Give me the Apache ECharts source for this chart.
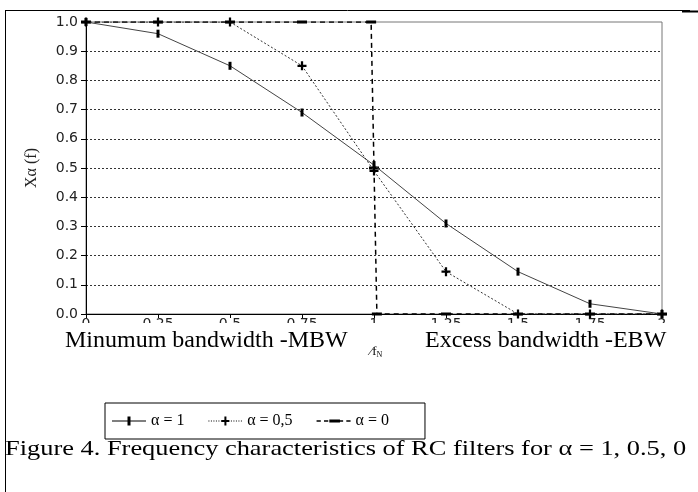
<!DOCTYPE html>
<html>
<head>
<meta charset="utf-8">
<script src="https://cdn.jsdelivr.net/npm/echarts@6/dist/echarts.min.js"></script>
<style>
  html, body { margin: 0; padding: 0; background: #fff; }
  #main { width: 698px; height: 492px; }
</style>
</head>
<body>
<div id="main"></div>
<script>
// data
var xTicks = ['0', '0.25', '0.5', '0.75', '1', '1.25', '1.5', '1.75', '2']
var fAlpha1 = [0, 0.25, 0.5, 0.75, 1, 1.25, 1.5, 1.75, 2]
var yAlpha1 = [1, 0.96, 0.85, 0.69, 0.51, 0.31, 0.145, 0.035, 0]
var fAlpha05 = [0, 0.25, 0.5, 0.75, 1, 1.25, 1.5, 1.75, 2]
var yAlpha05 = [1, 1, 1, 0.85, 0.49, 0.145, 0, 0, 0]
var fAlpha0 = [0, 0.25, 0.5, 0.75, 0.99, 1, 1.01, 1.25, 1.5, 1.75, 2]
var yAlpha0 = [1, 1, 1, 1, 1, 0.5, 0, 0, 0, 0, 0]
var seriesNames = ['α = 1', 'α = 0,5', 'α = 0']

function pairs(xs, ys) {
  var out = []
  for (var i = 0; i < xs.length; i++) out.push([xs[i], ys[i]])
  return out
}

// marker shapes
var plusPath = 'path://M0,3H3V0H5V3H8V5H5V8H3V5H0Z'

// legend icons: line sample + marker, drawn in a 34x9 box
function segs(on, off, y, h) {
  var p = ''
  for (var x = 0; x < 34; x += on + off) {
    var w = Math.min(on, 34 - x)
    p += 'M' + x + ',' + y + 'h' + w + 'v' + h + 'h' + (-w) + 'Z'
  }
  return p
}
var iconAlpha1 = 'path://' + segs(34, 0, 4, 1) + 'M15.5,0H18.5V9H15.5Z'
var iconAlpha05 = 'path://' + segs(1, 1.5, 4, 1) + 'M13,3.5H16V0H18V3.5H21V5.5H18V9H16V5.5H13Z'
var iconAlpha0 = 'path://' + segs(4, 3, 0.8, 1.4) + 'M12,0H22V3H12Z'

var serif = 'Liberation Serif'
var sans = 'DejaVu Sans'

var myChart = echarts.init(document.getElementById('main'))
var option = {
  animation: false,
  backgroundColor: '#fff',
  grid: {
    left: 86, right: 36, top: 22, bottom: 178,
    show: true, borderColor: '#777', borderWidth: 1
  },
  legend: {
    left: 105, top: 403,
    orient: 'horizontal',
    itemWidth: 34, itemHeight: 9, itemGap: 24,
    symbolKeepAspect: true,
    padding: [10, 36, 10, 7],
    borderColor: '#000', borderWidth: 1,
    textStyle: { fontFamily: serif, fontSize: 16, color: '#000' },
    data: [
      { name: seriesNames[0], icon: iconAlpha1 },
      { name: seriesNames[1], icon: iconAlpha05 },
      { name: seriesNames[2], icon: iconAlpha0 }
    ]
  },
  xAxis: {
    type: 'value', min: 0, max: 2, interval: 0.25,
    axisLine: { lineStyle: { color: '#000', width: 1 } },
    axisTick: { show: true, length: 4, lineStyle: { color: '#000' } },
    axisLabel: {
      margin: 3, fontFamily: sans, fontSize: 14, color: '#222',
      formatter: function (v) {
        var i = Math.round(v / 0.25)
        return xTicks[i] || ''
      }
    },
    splitLine: { show: false }
  },
  yAxis: {
    type: 'value', min: 0, max: 1, interval: 0.1,
    name: 'Xα (f)', nameLocation: 'middle', nameGap: 46, nameRotate: 90,
    nameTextStyle: { fontFamily: serif, fontSize: 16, color: '#222' },
    axisLine: { show: true, lineStyle: { color: '#000', width: 1 } },
    axisTick: { show: true, length: 5, lineStyle: { color: '#000' } },
    axisLabel: {
      margin: 8, fontFamily: sans, fontSize: 14, color: '#222',
      formatter: function (v) { return v.toFixed(1) }
    },
    splitLine: {
      show: true, showMinLine: false, showMaxLine: false,
      lineStyle: { color: '#333', type: [2, 2], width: 1 }
    }
  },
  series: [
    {
      name: seriesNames[2], type: 'line', z: 2,
      data: pairs(fAlpha0, yAlpha0),
      symbol: 'rect', symbolSize: [10, 3],
      lineStyle: { color: '#000', width: 1.5, type: [5, 4] },
      itemStyle: { color: '#000' }
    },
    {
      name: seriesNames[0], type: 'line', z: 3,
      data: pairs(fAlpha1, yAlpha1),
      symbol: 'rect', symbolSize: [3, 8],
      lineStyle: { color: '#444', width: 1, type: 'solid' },
      itemStyle: { color: '#000' }
    },
    {
      name: seriesNames[1], type: 'line', z: 4,
      data: pairs(fAlpha05, yAlpha05),
      symbol: plusPath, symbolSize: 9,
      lineStyle: { color: '#333', width: 1, type: [2, 2] },
      itemStyle: { color: '#000' }
    }
  ],
  graphic: [
    // outer frame of the figure
    { type: 'line', shape: { x1: 5.5, y1: 10, x2: 5.5, y2: 492 }, style: { stroke: '#000', lineWidth: 1 } },
    { type: 'line', shape: { x1: 5, y1: 10.5, x2: 690, y2: 10.5 }, style: { stroke: '#000', lineWidth: 1 } },
    { type: 'line', shape: { x1: 682, y1: 11.5, x2: 698, y2: 11.5 }, style: { stroke: '#000', lineWidth: 2 } },
    // white band hiding the lower half of the x tick labels
    { type: 'rect', z: 100, shape: { x: 60, y: 323, width: 630, height: 10 }, style: { fill: '#fff' } },
    {
      type: 'text', z: 101, left: 65, top: 329,
      style: { text: 'Minumum bandwidth -MBW', font: '24px "Liberation Serif"', fill: '#000' }
    },
    {
      type: 'text', z: 101, left: 425, top: 329,
      style: { text: 'Excess bandwidth -EBW', font: '24px "Liberation Serif"', fill: '#000' }
    },
    {
      type: 'text', z: 101, left: 370, top: 345,
      style: {
        text: '{a|⁄f}{b|N}',
        rich: {
          a: { fontFamily: serif, fontSize: 13, fill: '#000' },
          b: { fontFamily: serif, fontSize: 8, fill: '#000', padding: [6, 0, 0, 0] }
        }
      }
    },
    {
      type: 'text', z: 101, x: 5, y: 438, scaleX: 1.2,
      style: { text: 'Figure 4. Frequency characteristics of RC filters for α = 1, 0.5, 0', font: '22px "Liberation Serif"', fill: '#000' }
    }
  ]
}
myChart.setOption(option)
</script>
</body>
</html>
